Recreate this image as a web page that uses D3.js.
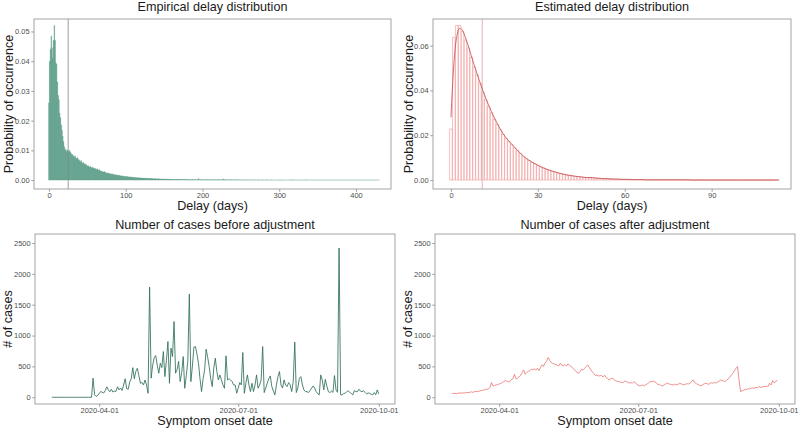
<!DOCTYPE html>
<html><head><meta charset="utf-8">
<script src="https://cdn.jsdelivr.net/npm/d3@7"></script>
<style>
body{margin:0;background:#fff}
svg text{font-family:"Liberation Sans",Arial,Helvetica,sans-serif}
</style>
</head><body>
<svg id="chart" width="800" height="431"></svg>
<script>
// ---------------- DATA ----------------
// Empirical delay distribution: probability (x 1e-4) for delay days 0..430
const empiricalProb1e4 = [
260,400,440,485,445,410,470,520,470,395,
390,330,285,270,225,210,185,168,148,130,
112,100,104,96,101,97,92,100,94,89,
84,86,80,78,82,74,72,76,70,68,
65,62,66,58,56,60,54,52,55,50,
47,49,45,44,46,42,40,43,41,38,
40,37,36,38,34,33,35,31,30,29,
28,27,29,26,25,24,23,24,22,21,
22,20,19,21,18,19,17,18,16,17,
16,15,16,14,15,13,14,13,12,13,
12,11,12,11,10,11,10,10,9,10,
9,9,8,9,8,8,7,8,8,7,
7,7,6,7,6,6,7,6,5,6,
6,5,5,6,5,5,4,5,4,5,
4,4,5,4,4,3,4,3,4,3,
3,3,4,3,3,3,2,3,3,2,
3,2,2,3,2,2,2,3,2,2,
2,2,2,2,2,2,1,2,2,2,
2,1,2,1,2,1,1,2,1,1,
1,2,1,1,1,5,1,1,2,1,
1,1,1,1,1,1,1,1,1,1,
1,1,1,1,1,1,1,1,1,1,
1,1,1,1,1,1,1,4,1,1,
1,1,1,0,1,1,0,1,1,0,
1,0,1,1,0,1,0,1,0,1,
0,1,0,0,1,0,1,0,0,1,
0,0,1,0,0,1,0,0,0,1,
0,0,0,1,0,0,0,0,1,0,
0,0,0,0,1,0,0,0,0,0,
1,0,0,0,0,0,0,0,0,0,
0,1,0,0,0,0,0,0,0,0,
0,0,0,0,0,0,1,0,0,0,
0,0,0,0,0,0,0,0,0,0,
0,0,0,0,0,1,0,0,0,0,
0,0,0,0,0,0,0,0,0,0,
0,0,0,0,0,0,0,0,0,0,
0,0,0,0,0,0,0,0,0,0,
0,0,0,0,0,0,0,0,0,0,
0,0,0,0,0,0,0,0,0,0,
0,0,0,0,0,0,0,0,0,0,
0,0,0,0,0,0,0,0,0,0,
0,0,0,0,0,0,0,0,0,0,
0,0,0,0,0,0,0,0,0,0,
0
];
const empiricalMean = 25;

// Estimated delay distribution: bar probability (x 1e-4) for days 0..113
const estimatedBar1e4 = [
228,637,690,690,665,625,590,548,505,470,
432,392,358,328,300,272,248,224,204,186,
172,158,144,131,118,105,95,87,79,72,
64,58,53,47,43,39,35,31,28,25,
22,20,18,16,15,13,12,11,12,10,
9,8,7,7,6,5,5,4,4,3,
3,3,3,2,2,2,2,2,1,1,
1,1,1,1,1,1,1,1,1,1,
1,1,0,1,0,0,1,0,0,0,
0,0,0,0,0,0,0,0,0,0,
0,0,0,0,0,0,0,0,0,0,
0,0,0,0
];
// Estimated fitted curve (x 1e-4) for days 0..113
const estimatedCurve1e4 = [
280,520,640,677,668,635,598,556,514,475,
437,400,366,334,305,277,252,228,207,189,
174,160,146,132,119,107,97,88,80,73,
66,60,54,49,44,40,36,32,29,26,
23,21,19,17,15,14,12,11,11,10,
9,8,7,6,6,5,5,4,4,3,
3,3,2,2,2,2,2,1,1,1,
1,1,1,1,1,1,1,1,1,1,
1,1,1,0,0,0,0,0,0,0,
0,0,0,0,0,0,0,0,0,0,
0,0,0,0,0,0,0,0,0,0,
0,0,0,0
];
const estimatedMean = 10.8;

// Daily cases before adjustment, 2020-03-01 .. 2020-10-01
const casesStart = "2020-03-01";
const casesBefore = [
0,0,0,0,0,0,0,0,0,0,0,0,0,0,0,0,0,0,0,0,0,0,0,0,0,0,0,
310,40,15,30,
60,95,80,70,110,170,120,90,130,85,
100,95,170,120,150,110,200,300,140,130,
250,300,480,300,420,470,350,227,240,200,
280,200,65,1785,310,520,640,676,520,390,
552,480,741,335,600,903,227,795,660,1228,
390,450,580,254,400,660,146,350,580,1672,
254,500,812,822,700,552,300,92,300,444,
779,650,498,300,173,470,633,420,281,362,
281,200,146,671,281,300,281,254,200,200,
65,150,238,200,725,65,227,362,200,92,
227,92,200,362,146,200,281,822,76,150,
227,300,346,173,100,38,200,335,417,200,
150,281,200,173,238,200,92,254,893,76,
150,308,335,200,119,92,92,76,110,146,
184,150,92,60,38,362,281,120,290,180,
92,76,100,80,352,119,80,2418,38,40,
60,65,90,103,80,60,38,108,90,92,
130,100,92,103,80,54,70,65,50,38,
76,40,119,54
];
// Daily cases after adjustment, 2020-03-01 .. 2020-09-30
const casesAfter = [
62,60,65,58,64,70,66,72,68,74,
78,75,82,88,80,92,96,90,100,108,
112,118,125,130,140,160,238,180,190,200,205,
216,225,240,255,270,262,250,254,290,300,
373,300,308,330,350,400,444,373,400,420,
430,454,445,460,440,470,433,480,525,500,
560,580,644,600,563,550,540,530,520,509,
552,520,510,530,505,541,520,498,480,450,
430,400,390,420,454,440,470,500,525,480,
444,410,380,352,360,345,350,352,330,357,
320,300,281,300,308,290,270,260,254,250,
240,238,260,255,245,230,240,227,250,240,
210,195,184,190,200,185,205,215,240,254,
254,260,250,230,200,210,190,184,200,215,
230,218,210,205,200,215,200,210,225,220,
205,200,210,220,216,230,260,281,240,220,
210,195,184,200,215,227,220,210,225,235,
227,240,230,250,265,281,270,262,255,280,
300,330,360,390,430,470,498,280,92,105,
110,130,125,140,135,150,151,145,160,155,
173,160,165,175,170,180,175,227,200,270,
238,250,281
];

const dateTicks = ["2020-04-01","2020-07-01","2020-10-01"];
const casesYTicks = [0,500,1000,1500,2000,2500];
const empXTicks = [0,100,200,300,400];
const empYTicks = [0,0.01,0.02,0.03,0.04,0.05];
const estXTicks = [0,30,60,90];
const estYTicks = [0,0.02,0.04,0.06];

// ---------------- DRAW ----------------
const svg = d3.select("#chart");
const parse = d3.utcParse("%Y-%m-%d");
const DAY = 864e5;
const t0 = parse(casesStart);
const beforeData = casesBefore.map((v,i)=>({date:new Date(+t0+i*DAY), v}));
const afterData  = casesAfter.map((v,i)=>({date:new Date(+t0+i*DAY), v}));
const empData = empiricalProb1e4.map((v,i)=>({d:i, p:v/1e4}));
const estBars = estimatedBar1e4.map((v,i)=>({d:i, p:v/1e4}));
const estCurve = estimatedCurve1e4.map((v,i)=>({d:i, p:v/1e4}));

const apr1 = parse("2020-04-01");
const dateDomain = [new Date(+apr1 - 42*DAY), new Date(+apr1 + 193.6*DAY)];

const panels = {
  tl:{x0:34,x1:391,y0:19,y1:189,tOff:8},
  tr:{x0:433,x1:791,y0:19,y1:189,tOff:8},
  bl:{x0:35,x1:395,y0:234,y1:404,tOff:5.5},
  br:{x0:435,x1:795,y0:234,y1:404,tOff:5.5}
};

const TICK_COL="#4d4d4d", BORDER="#9a9a9a";

function frame(p, x, y, xt, yt, xf, yf, title, xTitle, yTitle, yTitleX){
  const g = svg.append("g");
  const ax = g.append("g").attr("transform",`translate(0,${p.y1})`)
    .call(d3.axisBottom(x).tickValues(xt).tickFormat(xf).tickSize(2.7).tickPadding(1.4));
  const ay = g.append("g").attr("transform",`translate(${p.x0},0)`)
    .call(d3.axisLeft(y).tickValues(yt).tickFormat(yf).tickSize(2.7).tickPadding(1.6));
  [ax,ay].forEach(a=>{
    a.select(".domain").remove();
    a.selectAll("line").attr("stroke","#5a5a5a").attr("stroke-width",0.6);
    a.selectAll("text").attr("fill",TICK_COL).style("font-size","7.5px");
  });
  g.append("rect").attr("x",p.x0).attr("y",p.y0).attr("width",p.x1-p.x0).attr("height",p.y1-p.y0)
    .attr("fill","none").attr("stroke",BORDER).attr("stroke-width",0.9);
  const cx = (p.x0+p.x1)/2;
  g.append("text").attr("x",cx).attr("y",p.y0-p.tOff).attr("text-anchor","middle")
    .style("font-size","12.6px").attr("fill","#1a1a1a").text(title);
  g.append("text").attr("x",cx).attr("y",p.y1+20.8).attr("text-anchor","middle")
    .style("font-size","12.6px").attr("fill","#1a1a1a").text(xTitle);
  g.append("text").attr("transform",`translate(${yTitleX},${(p.y0+p.y1)/2}) rotate(-90)`)
    .attr("text-anchor","middle").style("font-size","12.6px").attr("fill","#1a1a1a").text(yTitle);
  return g;
}

function clip(id,p){
  svg.append("clipPath").attr("id",id).append("rect")
    .attr("x",p.x0).attr("y",p.y0).attr("width",p.x1-p.x0).attr("height",p.y1-p.y0);
}

// bar outline as a path so zero-height bars still show their stroke
function barPath(x,y,d,w){
  const xa = x(d.d-w/2), xb = x(d.d+w/2), y0 = y(0), yv = y(d.p);
  return `M${xa},${y0}V${yv}H${xb}V${y0}Z`;
}

// ---- Top-left: empirical ----
{
  const p = panels.tl;
  const x = d3.scaleLinear().domain([-19.5,445.6]).range([p.x0,p.x1]);
  const y = d3.scaleLinear().domain([-0.003,0.0542]).range([p.y1,p.y0]);
  clip("c1",p);
  const g = svg.append("g").attr("clip-path","url(#c1)");
  g.selectAll("path").data(empData).join("path")
    .attr("d",d=>barPath(x,y,d,0.9))
    .attr("fill","#6ca996").attr("stroke","#3f8c73").attr("stroke-opacity",0.75).attr("stroke-width",0.35);
  g.append("line").attr("x1",x(empiricalMean)).attr("x2",x(empiricalMean))
    .attr("y1",p.y0).attr("y2",p.y1).attr("stroke","#7d8783").attr("stroke-width",0.8);
  frame(p,x,y,empXTicks,empYTicks,d3.format("d"),d3.format(".2f"),
    "Empirical delay distribution","Delay (days)","Probability of occurrence",12.5);
}

// ---- Top-right: estimated ----
{
  const p = panels.tr;
  const x = d3.scaleLinear().domain([-6.2,117.4]).range([p.x0,p.x1]);
  const y = d3.scaleLinear().domain([-0.004,0.0719]).range([p.y1,p.y0]);
  clip("c2",p);
  const g = svg.append("g").attr("clip-path","url(#c2)");
  g.selectAll("path.bar").data(estBars).join("path").attr("class","bar")
    .attr("d",d=>barPath(x,y,d,0.9))
    .attr("fill","none").attr("stroke","#f2a3a3").attr("stroke-width",0.7);
  g.append("line").attr("x1",x(estimatedMean)).attr("x2",x(estimatedMean))
    .attr("y1",p.y0).attr("y2",p.y1).attr("stroke","#e3bcbc").attr("stroke-width",1.1);
  g.append("path").datum(estCurve)
    .attr("d",d3.line().x(d=>x(d.d)).y(d=>y(d.p)).curve(d3.curveMonotoneX))
    .attr("fill","none").attr("stroke","#c04a4a").attr("stroke-width",0.8);
  frame(p,x,y,estXTicks,estYTicks,d3.format("d"),d3.format(".2f"),
    "Estimated delay distribution","Delay (days)","Probability of occurrence",412.5);
}

// ---- Bottom panels ----
function casesPanel(p,data,color,title,id){
  const x = d3.scaleUtc().domain(dateDomain).range([p.x0,p.x1]);
  const y = d3.scaleLinear().domain([-109,2646]).range([p.y1,p.y0]);
  clip(id,p);
  svg.append("g").attr("clip-path",`url(#${id})`).append("path").datum(data)
    .attr("d",d3.line().x(d=>x(d.date)).y(d=>y(d.v)))
    .attr("fill","none").attr("stroke",color).attr("stroke-width",0.85).attr("stroke-linejoin","round");
  frame(p,x,y,dateTicks.map(parse),casesYTicks,d3.utcFormat("%Y-%m-%d"),d3.format("d"),
    title,"Symptom onset date","# of cases",p.x0<100?12.3:412.3);
}
casesPanel(panels.bl,beforeData,"#2f6f5a","Number of cases before adjustment","c3");
casesPanel(panels.br,afterData,"#ec7b7b","Number of cases after adjustment","c4");
</script>
</body></html>
